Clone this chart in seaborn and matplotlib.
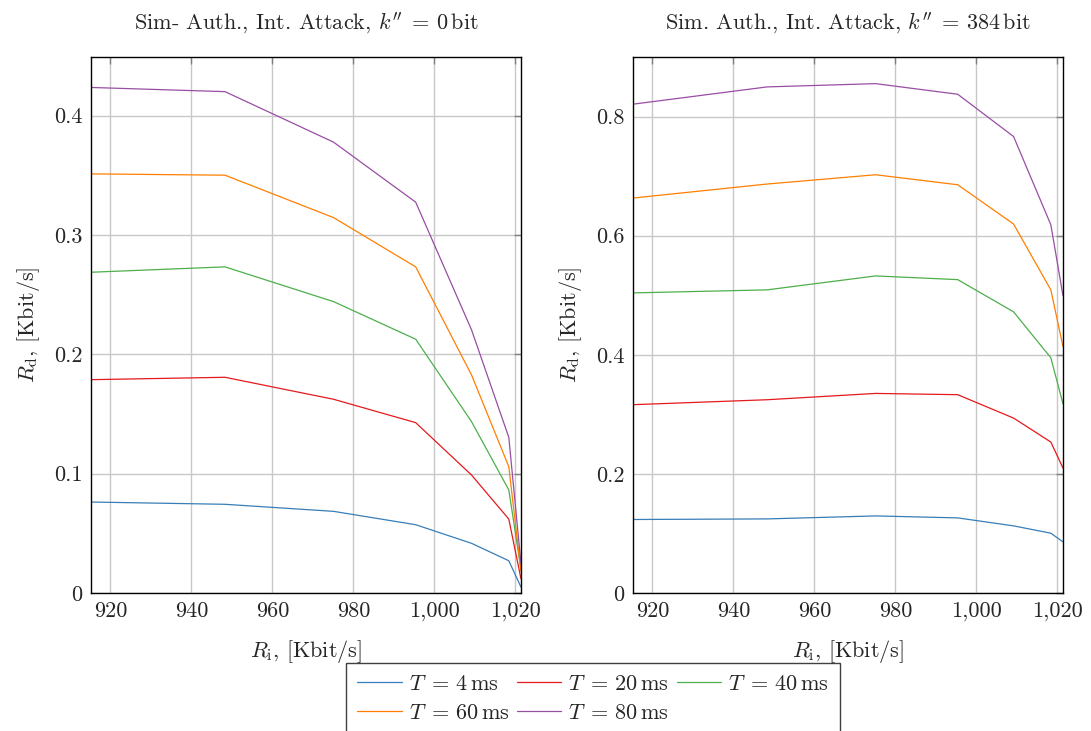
import numpy as np
import pandas as pd
import matplotlib
matplotlib.use("Agg")
import matplotlib.pyplot as plt
from matplotlib.ticker import FuncFormatter, MultipleLocator
import seaborn as sns

# Input rate R_i [Kbit/s] (shared by both panels)
r_i = [915.2, 948.3, 975.1, 995.4, 1009.2, 1018.4, 1021.4]

# Delivered rate R_d [Kbit/s], k'' = 0 bit
rd_k0_T4 = [0.0762, 0.0743, 0.0684, 0.0572, 0.0416, 0.0270, 0.005]
rd_k0_T20 = [0.1787, 0.1807, 0.1623, 0.1427, 0.0988, 0.0619, 0.012]
rd_k0_T40 = [0.2687, 0.2732, 0.2441, 0.2126, 0.1435, 0.0863, 0.020]
rd_k0_T60 = [0.3511, 0.3500, 0.3145, 0.2732, 0.1826, 0.1058, 0.018]
rd_k0_T80 = [0.4235, 0.4200, 0.3777, 0.3274, 0.2204, 0.1304, 0.025]

# Delivered rate R_d [Kbit/s], k'' = 384 bit
rd_k384_T4 = [0.1234, 0.1244, 0.1294, 0.1261, 0.1127, 0.1004, 0.0859]
rd_k384_T20 = [0.3162, 0.3245, 0.3351, 0.3330, 0.2937, 0.2535, 0.2099]
rd_k384_T40 = [0.5039, 0.5090, 0.5324, 0.5262, 0.4721, 0.3950, 0.3178]
rd_k384_T60 = [0.6632, 0.6867, 0.7023, 0.6855, 0.6196, 0.5090, 0.4139]
rd_k384_T80 = [0.8208, 0.8498, 0.8553, 0.8375, 0.7665, 0.6184, 0.4994]

periods = [4, 20, 40, 60, 80]
series_k0 = [rd_k0_T4, rd_k0_T20, rd_k0_T40, rd_k0_T60, rd_k0_T80]
series_k384 = [rd_k384_T4, rd_k384_T20, rd_k384_T40, rd_k384_T60, rd_k384_T80]

titles = [r"Sim- Auth., Int. Attack, $k^{\prime\prime}\;=\,0\,\mathrm{bit}$",
          r"Sim. Auth., Int. Attack, $k^{\prime\prime}\;=\,384\,\mathrm{bit}$"]
y_limits = [(0, 0.449), (0, 0.9)]
y_steps = [0.1, 0.2]

sns.set_style("white")
plt.rcParams["font.family"] = ["cmr10", "DejaVu Serif"]
plt.rcParams["mathtext.fontset"] = "cm"
plt.rcParams["axes.formatter.use_mathtext"] = True
plt.rcParams["axes.unicode_minus"] = False

FS = 16

set1 = sns.color_palette("Set1")
colors = {4: set1[1], 20: set1[0], 40: set1[2], 60: set1[4], 80: set1[3]}
labels = {t: rf"$T\;=\,{t}\,\mathrm{{ms}}$" for t in periods}


def long_frame(series):
    rows = []
    for t, vals in zip(periods, series):
        for x, y in zip(r_i, vals):
            rows.append({"R_i": x, "R_d": y, "T": labels[t]})
    return pd.DataFrame(rows)


fig = plt.figure(figsize=(10.91, 7.31), dpi=100)
axes = [fig.add_axes([0.0834, 0.1888, 0.3941, 0.7332]),
        fig.add_axes([0.5802, 0.1888, 0.3941, 0.7332])]

palette = {labels[t]: colors[t] for t in periods}
thousands = FuncFormatter(lambda v, _: f"{v:,.0f}")

for ax, series, title, ylim, ystep in zip(axes, [series_k0, series_k384],
                                          titles, y_limits, y_steps):
    df = long_frame(series)
    sns.lineplot(data=df, x="R_i", y="R_d", hue="T", palette=palette,
                 linewidth=0.9, ax=ax, legend=False, sort=False)
    ax.set_xlim(r_i[0], r_i[-1])
    ax.set_ylim(*ylim)
    ax.xaxis.set_major_locator(MultipleLocator(20))
    ax.yaxis.set_major_locator(MultipleLocator(ystep))
    ax.xaxis.set_major_formatter(thousands)
    ax.yaxis.set_major_formatter(FuncFormatter(lambda v, _: f"{v:g}"))
    ax.grid(True, color="#c8c8c8", linewidth=1.0)
    ax.set_axisbelow(True)
    ax.tick_params(direction="in", length=5, width=1.0, color="#808080",
                   top=True, right=True, labelsize=FS, pad=6)
    for sp in ax.spines.values():
        sp.set_color("black")
        sp.set_linewidth(1.0)
    ax.set_title(title, fontsize=FS, pad=20)
    ax.set_xlabel(r"$R_{\mathrm{i}}$, [Kbit/s]", fontsize=FS, labelpad=12)
    ax.set_ylabel(r"$R_{\mathrm{d}}$, [Kbit/s]", fontsize=FS, labelpad=9)

# Legend laid out row-wise: 4, 20, 40 / 60, 80
order = [4, 60, 20, 80, 40]
handles = [plt.Line2D([], [], color=colors[t], linewidth=0.9) for t in order]
fig.legend(handles, [labels[t] for t in order], loc="upper center",
           bbox_to_anchor=(0.5435, 0.093), ncol=3, fontsize=FS,
           frameon=True, fancybox=False, edgecolor="#404040",
           framealpha=1.0, handlelength=2.0, handletextpad=0.3,
           columnspacing=0.35, borderpad=0.5, labelspacing=0.42,
           borderaxespad=0.0)

fig.savefig("out.png", dpi=100)
